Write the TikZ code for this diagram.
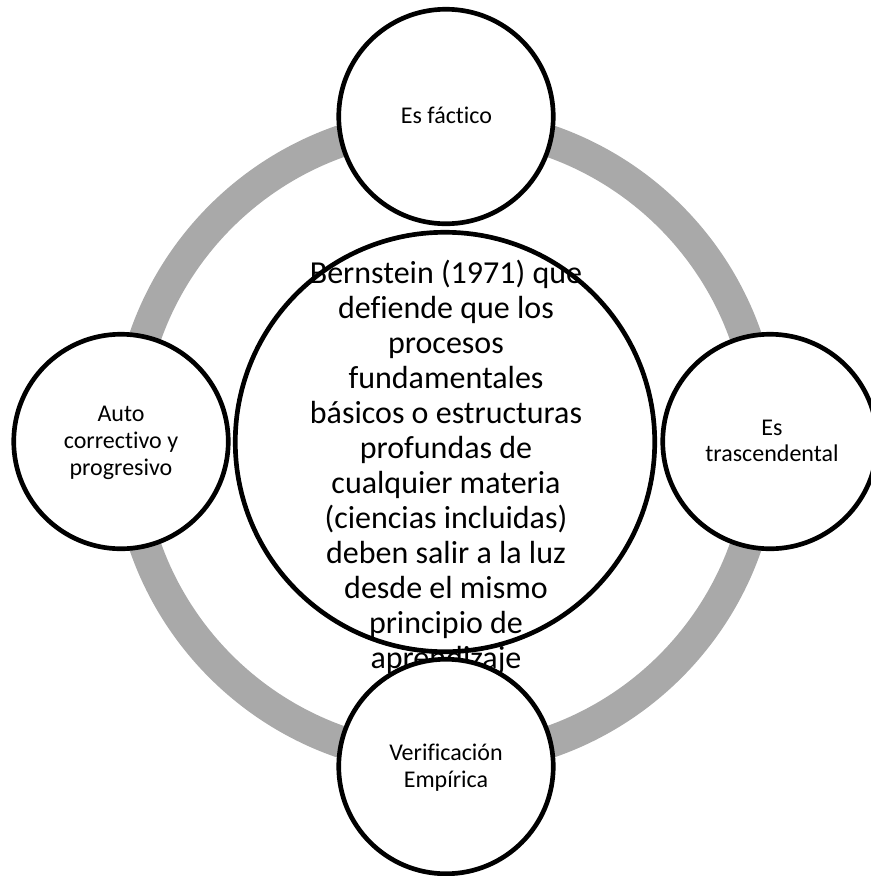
\documentclass[tikz,border=0pt]{standalone}
\usepackage{fontspec}
\setmainfont{Carlito}[Ligatures=NoCommon]
\definecolor{ringgray}{RGB}{169,169,169}
\begin{document}
\begin{tikzpicture}[x=0.75pt,y=-0.75pt,
  ring/.style={draw=ringgray, line width=24pt},
  bubble/.style={circle, draw=black, fill=white, line width=3.5pt, inner sep=0pt},
  small/.style={minimum size=160.9pt},
  large/.style={minimum size=314.6pt},
  smalltext/.style={font=\fontsize{18}{20}\selectfont, align=center, inner sep=0pt, anchor=base},
  bigtext/.style={font=\fontsize{24}{26.25}\selectfont, align=center, inner sep=0pt, anchor=base}]
\useasboundingbox (0,0) rectangle (871,876);
% grey cycle ring behind everything
\coordinate (hub) at (445.5,441.5);
\draw[ring] (hub) circle[radius=238.5pt];
% central circle and its text (anchored at the baseline of the last line)
\node[bubble, large] (core) at (445,442) {};
\node[bigtext] (coretext) at (446,668) {Bernstein (1971) que\\defiende que los\\procesos\\fundamentales\\básicos o estructuras\\profundas de\\cualquier materia\\(ciencias incluidas)\\deben salir a la luz\\desde el mismo\\principio de\\aprendizaje};
% the four satellite circles
\node[bubble, small] (top) at (446,116.5) {};
\node[bubble, small] (left) at (121,441.5) {};
\node[bubble, small] (right) at (770,441.5) {};
\node[bubble, small] (bottom) at (446,766.5) {};
\node[smalltext] (toptext) at (446.5,123) {Es fáctico};
\node[smalltext] (lefttext) at (121,475) {Auto\\correctivo y\\progresivo};
\node[smalltext] (righttext) at (772,461.7) {Es\\trascendental};
\node[smalltext] (bottomtext) at (446,787.5) {Verificación\\Empírica};
\end{tikzpicture}
\end{document}
